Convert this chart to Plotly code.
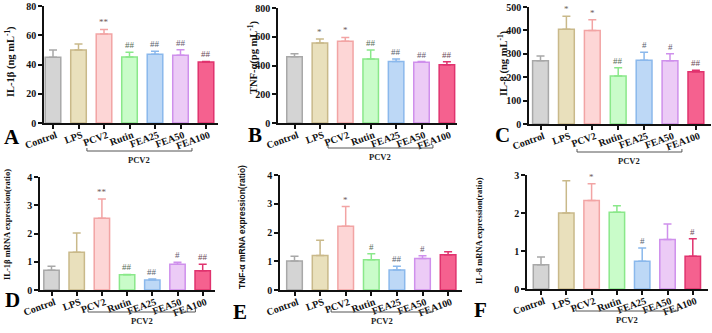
import plotly.graph_objects as go

W, H = 712, 333

groups = ["Control", "LPS", "PCV2", "Rutin", "FEA25", "FEA50", "FEA100"]

il1b_protein = [45, 50, 60.8, 45.2, 47, 46.3, 41.7]
il1b_protein_err = [5, 4, 3.2, 3.2, 2, 3.8, 0.4]
il1b_protein_sig = ["", "", "**", "##", "##", "##", "##"]

tnfa_protein = [461, 557, 569, 445, 428, 422, 405]
tnfa_protein_err = [20, 27, 26, 62, 17, 5, 21]
tnfa_protein_sig = ["", "*", "*", "##", "##", "##", "##"]

il8_protein = [270, 405, 400, 205, 272, 270, 223]
il8_protein_err = [21, 55, 45, 35, 35, 30, 7]
il8_protein_sig = ["", "*", "*", "##", "#", "#", "##"]

il1b_mrna = [0.70, 1.34, 2.54, 0.54, 0.35, 0.91, 0.68]
il1b_mrna_err = [0.14, 0.68, 0.68, 0.01, 0.04, 0.07, 0.23]
il1b_mrna_sig = ["", "", "**", "##", "##", "#", "##"]

tnfa_mrna = [1.01, 1.20, 2.22, 1.05, 0.70, 1.10, 1.23]
tnfa_mrna_err = [0.16, 0.53, 0.68, 0.21, 0.13, 0.09, 0.10]
tnfa_mrna_sig = ["", "", "*", "#", "##", "#", ""]

il8_mrna = [0.64, 2.00, 2.33, 2.02, 0.73, 1.30, 0.86]
il8_mrna_err = [0.20, 0.85, 0.44, 0.17, 0.35, 0.41, 0.46]
il8_mrna_sig = ["", "", "*", "", "#", "", "#"]

fill_colors = ["#d4d4d4", "#e9e0bc", "#fdd6d6", "#c9fcc9", "#bdd8f6", "#eccbf6", "#f5618f"]
line_colors = ["#a8a8a8", "#c9b98a", "#f2a4a4", "#8ae88a", "#8ab8ec", "#cf90ec", "#e0336e"]
sig_colors = ["#666666", "#6e6658", "#705a5a", "#5a705a", "#5a6470", "#6a5a70", "#704a58"]

SERIF = "Liberation Serif"

panels = [
    dict(letter="A", vals=il1b_protein, err=il1b_protein_err, sig=il1b_protein_sig,
         title="IL-1β (ng mL<sup>-1</sup>)", ticks=[0, 20, 40, 60, 80], ymax=80,
         xpx=(44, 218), ypx=(6, 123), c0=53, d=25.5, tx=10, ty=62, tsize=10.5,
         br=(1.33, 5.45, 151), lpos=(12, 137)),
    dict(letter="B", vals=tnfa_protein, err=tnfa_protein_err, sig=tnfa_protein_sig,
         title="TNF-α(pg mL<sup>-1</sup>)", ticks=[0, 200, 400, 600, 800], ymax=800,
         xpx=(278, 457), ypx=(8, 123), c0=294.5, d=25.4, tx=253, ty=58, tsize=10.5,
         br=(1.32, 5.45, 148), lpos=(255, 135)),
    dict(letter="C", vals=il8_protein, err=il8_protein_err, sig=il8_protein_sig,
         title="IL-8 (ng mL<sup>-1</sup>)", ticks=[0, 100, 200, 300, 400, 500], ymax=500,
         xpx=(529, 711), ypx=(7, 124), c0=540.5, d=25.9, tx=503, ty=63, tsize=10.5,
         br=(1.41, 5.46, 152), lpos=(502, 135)),
    dict(letter="D", vals=il1b_mrna, err=il1b_mrna_err, sig=il1b_mrna_sig,
         title="IL-1β mRNA expression(ratio)", ticks=[0, 1, 2, 3, 4], ymax=4,
         xpx=(40, 215), ypx=(177, 290), c0=51.5, d=25.2, tx=7, ty=225, tsize=8.5,
         br=(1.45, 5.71, 312), lpos=(12, 300)),
    dict(letter="E", vals=tnfa_mrna, err=tnfa_mrna_err, sig=tnfa_mrna_sig,
         title="TNF-α mRNA expression(ratio)", ticks=[0, 1, 2, 3, 4], ymax=4,
         xpx=(280, 462), ypx=(175, 290), c0=294.5, d=25.6, tx=242, ty=227, tsize=8.5,
         br=(1.43, 5.41, 312), lpos=(240, 312)),
    dict(letter="F", vals=il8_mrna, err=il8_mrna_err, sig=il8_mrna_sig,
         title="IL-8 mRNA expression(ratio)", ticks=[0, 1, 2, 3], ymax=3,
         xpx=(527, 708), ypx=(175, 289), c0=541, d=25.3, tx=479, ty=230, tsize=8.5,
         br=(1.38, 5.42, 311), lpos=(480, 310)),
]

fig = go.Figure()
shapes = []
annotations = []

for k, p in enumerate(panels):
    n = k + 1
    xa = "x" if n == 1 else f"x{n}"
    ya = "y" if n == 1 else f"y{n}"
    for i, g in enumerate(groups):
        fig.add_trace(go.Bar(
            x=[i], y=[p["vals"][i]], width=0.61,
            marker=dict(color=fill_colors[i], line=dict(color=line_colors[i], width=1.5)),
            error_y=dict(type="data", symmetric=False, array=[p["err"][i]], arrayminus=[0],
                         color=line_colors[i], thickness=1.5, width=4),
            xaxis=xa, yaxis=ya, showlegend=False, hoverinfo="skip",
        ))
        if p["sig"][i]:
            annotations.append(dict(
                x=i, y=p["vals"][i] + p["err"][i], xref=xa, yref=ya,
                text=p["sig"][i], showarrow=False, yanchor="bottom", yshift=0,
                font=dict(family=SERIF, size=9, color=sig_colors[i]),
            ))
    x0px, x1px = p["xpx"]
    y0px, y1px = p["ypx"]
    xr = [(x0px - p["c0"]) / p["d"], (x1px - p["c0"]) / p["d"]]
    lk = "xaxis" if n == 1 else f"xaxis{n}"
    lyk = "yaxis" if n == 1 else f"yaxis{n}"
    fig.layout[lk] = dict(
        domain=[x0px / W, x1px / W], range=xr, anchor=ya, automargin=False,
        tickmode="array", tickvals=list(range(7)), ticktext=groups,
        tickangle=-20, ticks="outside", ticklen=4, tickwidth=1.5, tickcolor="#111",
        ticklabelstandoff=-3, ticklabelshift=3,
        showline=True, linecolor="#111", linewidth=1.5, showgrid=False, zeroline=False,
        tickfont=dict(family=SERIF, size=10, color="#111", weight="bold"),
    )
    fig.layout[lyk] = dict(
        domain=[1 - y1px / H, 1 - y0px / H], range=[0, p["ymax"]], anchor=xa,
        automargin=False,
        tickmode="array", tickvals=p["ticks"], ticks="outside", ticklen=4, tickwidth=1.5,
        tickcolor="#111", showline=True, linecolor="#111", linewidth=1.5,
        showgrid=False, zeroline=False,
        tickfont=dict(family=SERIF, size=10, color="#111", weight="bold"),
    )
    # Y title
    tfam = "Liberation Sans" if p["letter"] == "E" else SERIF
    annotations.append(dict(
        x=p["tx"] / W, y=1 - p["ty"] / H, xref="paper", yref="paper",
        text=p["title"], textangle=-90, showarrow=False,
        xanchor="center", yanchor="middle",
        font=dict(family=tfam, size=p["tsize"], color="#111", weight="bold"),
    ))
    # panel letter
    annotations.append(dict(
        x=p["lpos"][0] / W, y=1 - p["lpos"][1] / H, xref="paper", yref="paper",
        text=p["letter"], showarrow=False, xanchor="center", yanchor="middle",
        font=dict(family=SERIF, size=21, color="#000", weight="bold"),
    ))
    # PCV2 bracket
    bx0, bx1, bypx = p["br"]
    by = 1 - bypx / H
    byt = 1 - (bypx - 3) / H
    for seg in [(bx0, byt, bx0, by), (bx0, by, bx1, by), (bx1, by, bx1, byt)]:
        shapes.append(dict(type="line", xref=xa, yref="paper",
                           x0=seg[0], y0=seg[1], x1=seg[2], y1=seg[3],
                           line=dict(color="#555", width=1)))
    annotations.append(dict(
        x=(bx0 + bx1) / 2, y=1 - (bypx + 2) / H, xref=xa, yref="paper",
        text="PCV2", showarrow=False, xanchor="center", yanchor="top",
        font=dict(family=SERIF, size=8.5, color="#222", weight="bold"),
    ))

fig.update_layout(
    width=W, height=H, margin=dict(l=0, r=0, t=0, b=0, autoexpand=False),
    paper_bgcolor="white", plot_bgcolor="white",
    barmode="overlay", shapes=shapes, annotations=annotations,
)

fig.write_html("out.html", config={"displayModeBar": False},
               post_script="document.body.style.margin='0';document.body.style.overflow='hidden';")
